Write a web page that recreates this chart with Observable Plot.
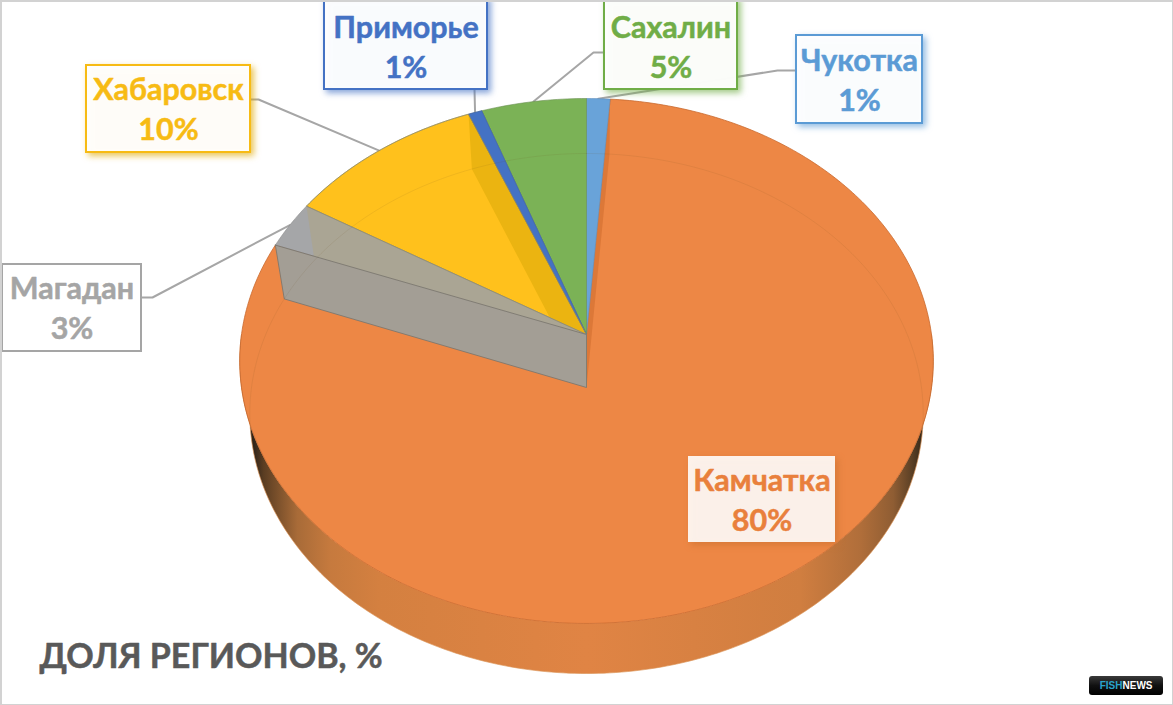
<!DOCTYPE html>
<html>
<head>
<meta charset="utf-8">
<script src="https://cdn.jsdelivr.net/npm/d3@7"></script>
<script src="https://cdn.jsdelivr.net/npm/@observablehq/plot@0.6"></script>
<style>
html,body{margin:0;padding:0;background:#fff}
svg{display:block}
</style>
</head>
<body>
<div id="chart"></div>
<script>
// Data (clockwise from 12 o'clock)
const regions = ["Чукотка", "Камчатка", "Магадан", "Хабаровск", "Приморье", "Сахалин"];
const shares = [1.2, 79.6, 2.9, 10.2, 0.7, 5.4];
const shareLabels = ["1%", "80%", "3%", "10%", "1%", "5%"];
const title = "ДОЛЯ РЕГИОНОВ, %";

// Styles
const colors = ["#69a3d9", "#ed8745", "#a5a6a8", "#ffc11c", "#4472c4", "#7bb256"];
const textColors = ["#5b9bd5", "#e9803c", "#a5a5a5", "#f7bb14", "#4472c4", "#70ad47"];
const leaderColor = "#a6a6a6";
const font = "Lato, Carlito, 'Noto Sans', sans-serif";

// Layout of label boxes: [x1, y1, x2, y2], knee offset of the leader line
const boxes = [
  [796, 35, 922, 123],
  [688, 456, 835, 542],
  [2, 264, 141, 351],
  [86, 65, 250, 152],
  [324, -3, 487, 89],
  [604, -3, 737, 89]
];
const leaderStart = [[796, 70, 777, 70], null, [141, 297, 152, 297], [250, 99, 258, 99], [474, 89, 474, 89], [604, 52, 593, 52]];

// Tilted disc with perspective
const topDisc = {cx: 586, cy: 334, a: 345, b: 259.8, k: 0.1009};
const baseDisc = {cx: 586, cy: 387, a: 335, b: 257.4, k: 0.1};
const pt = (f, d) => {
  const t = 2 * Math.PI * f, X = Math.sin(t), Y = Math.cos(t), w = 1 + d.k * Y;
  return {x: d.cx + d.a * X / w, y: d.cy - d.b * Y / w};
};
const arc = (f0, f1, d) => {
  const n = Math.max(2, Math.ceil(Math.abs(f1 - f0) * 400));
  return d3.range(n + 1).map(i => pt(f0 + (f1 - f0) * i / n, d));
};
const cum = [0, ...d3.cumsum(shares).map(v => v / 100)];
const start = i => cum[i], end = i => cum[i + 1], mid = i => (cum[i] + cum[i + 1]) / 2;
const topC = {x: topDisc.cx, y: topDisc.cy}, baseC = {x: baseDisc.cx, y: baseDisc.cy};
const closed = ps => [...ps, ps[0]];
const sector = i => closed([topC, ...arc(start(i), end(i), topDisc)]);
const poly = (ps, o) => Plot.line(ps, {x: "x", y: "y", curve: "linear", strokeLinejoin: "round", ...o});

const wallStops = [[0, "#241c12"], [0.02, "#33261a"], [0.033, "#5a3d22"], [0.082, "#a86b38"], [0.13, "#c67a3e"], [0.2, "#d48040"], [0.5, "#e08444"], [0.808, "#d07e40"], [0.895, "#b06e3a"], [0.942, "#8f5d33"], [0.967, "#5f4226"], [0.988, "#2e2417"], [1, "#241c12"]];
const defs = () => {
  const s = d3.create("svg:defs");
  const g = s.append("linearGradient").attr("id", "wall").attr("gradientUnits", "userSpaceOnUse")
    .attr("x1", 240).attr("x2", 933).attr("y1", 0).attr("y2", 0);
  wallStops.forEach(([o, c]) => g.append("stop").attr("offset", o).attr("stop-color", c));
  const l = s.append("linearGradient").attr("id", "logo").attr("x1", 0).attr("x2", 0).attr("y1", 0).attr("y2", 1);
  l.append("stop").attr("offset", 0).attr("stop-color", "#3a3a3a");
  l.append("stop").attr("offset", 0.5).attr("stop-color", "#111");
  l.append("stop").attr("offset", 1).attr("stop-color", "#000");
  return s.node();
};

const idx = {ch: 0, ka: 1, ma: 2, kh: 3, pr: 4, sa: 5};
const labelRows = regions.map((r, i) => ({
  region: r,
  text: r + "\n" + shareLabels[i],
  x1: boxes[i][0], y1: boxes[i][1], x2: boxes[i][2], y2: boxes[i][3],
  cx: (boxes[i][0] + boxes[i][2]) / 2,
  cy: i === 4 || i === 5 ? 44.5 : (boxes[i][1] + boxes[i][3]) / 2 - 1.5
}));

const shadowStyles = ["#5b9bd5", "#c9702f", "#777", "#e0a800", "#4472c4", "#70ad47"];

const marks = [
  defs,
  // outer wall of the pie
  poly(closed([...arc(0.25, 0.75, baseDisc), ...arc(0.75, 0.25, topDisc)]), {fill: "url(#wall)", stroke: "#f0a060", strokeWidth: 0.6}),
  // leader lines
  ...regions.map((r, i) => {
    if (!leaderStart[i]) return null;
    const [a, b, c, d] = leaderStart[i];
    const e = pt(mid(i), topDisc);
    return poly([{x: a, y: b}, {x: c, y: d}, e], {stroke: leaderColor, strokeWidth: 2});
  }).filter(Boolean),
  // Kamchatka face
  poly(sector(idx.ka), {fill: colors[1], stroke: "#c96a2e", strokeWidth: 0.8}),
  // inner wall at Chukotka / Kamchatka boundary
  poly([pt(end(0), topDisc), pt(end(0), baseDisc), baseC, topC], {fill: "#dc7838"}),
  // Small sectors
  poly(sector(idx.ch), {fill: colors[0], stroke: "#5f8fbd", strokeWidth: 0.6}),
  poly(sector(idx.sa), {fill: colors[5], stroke: "#6a8f52", strokeWidth: 0.6}),
  poly(sector(idx.pr), {fill: colors[4], stroke: "#4a6aa0", strokeWidth: 0.6}),
  poly(sector(idx.kh), {fill: colors[3], stroke: "#b79a3a", strokeWidth: 0.6}),
  // Yellow inner wall at Primorye side
  poly([pt(start(idx.kh + 1), topDisc), pt(start(idx.kh + 1), baseDisc), baseC, topC], {fill: "#ebb411"}),
  poly(sector(idx.pr), {fill: colors[4], stroke: "#4a6aa0", strokeWidth: 0.6}),
  poly(sector(idx.ma), {fill: colors[2], stroke: "#8d8d8d", strokeWidth: 0.6}),
  // Beige: Magadan inner wall at Khabarovsk side
  poly([pt(end(idx.ma), topDisc), pt(end(idx.ma), baseDisc), baseC, topC], {fill: "#aaa594"}),
  // Yellow sector edge redrawn above beige
  poly(closed([topC, ...arc(start(idx.kh), end(idx.kh), topDisc)]), {fill: colors[3], fillOpacity: 0, stroke: "#8d8a6a", strokeWidth: 0.7}),
  // Grey wall seen in the gap
  poly(closed([pt(start(idx.ma), topDisc), topC, baseC, pt(start(idx.ma), baseDisc)]), {fill: "#a39e95", stroke: "#77746c", strokeWidth: 0.8}),
  // Faint base outline seen through the faces
  poly(arc(0, 1, baseDisc), {stroke: "#6b4a20", strokeOpacity: 0.1, strokeWidth: 1}),
  // Label boxes
  ...labelRows.map((d, i) => Plot.rect([d], {
    x1: "x1", x2: "x2", y1: "y1", y2: "y2",
    fill: "#fff", fillOpacity: i === 1 ? 0.89 : 0.96,
    stroke: i === 1 ? "none" : textColors[i], strokeWidth: 2,
    imageFilter: `drop-shadow(3px 3px 3px ${shadowStyles[i]}aa)`
  })),
  Plot.text(labelRows, {
    x: "cx", y: "cy", text: "text", fill: "region", stroke: "region", strokeWidth: 0.5, fontSize: 30.5, fontWeight: 700,
    fontFamily: font, lineHeight: 1.3, lineAnchor: "middle"
  }),
  Plot.text([title], {x: [39], y: [657], text: d => d, textAnchor: "start", fill: "#595959", stroke: "#595959", strokeWidth: 0.5, fontSize: 34, fontWeight: 700, fontFamily: font}),
  // Logo
  Plot.rect(["logo"], {x1: [1089], x2: [1163], y1: [676], y2: [695], fill: "url(#logo)", rx: 3}),
  Plot.text(["FISH"], {x: [1122], y: [685.5], text: d => d, textAnchor: "end", fill: "#2aa3cc", fontSize: 10, fontWeight: 700, fontFamily: "'Liberation Sans'"}),
  Plot.text(["NEWS"], {x: [1122], y: [685.5], text: d => d, textAnchor: "start", fill: "#fff", fontSize: 10, fontWeight: 700, fontFamily: "'Liberation Sans'"}),
  // Picture frame
  Plot.frame({stroke: "#d2d2d2", strokeWidth: 3})
];

const chart = Plot.plot({
  width: 1173, height: 705,
  margin: 0,
  x: {domain: [0, 1173], range: [0, 1173], axis: null},
  y: {domain: [0, 705], range: [0, 705], axis: null},
  color: {domain: regions, range: textColors},
  marks
});
document.getElementById("chart").append(chart);
</script>
</body>
</html>
